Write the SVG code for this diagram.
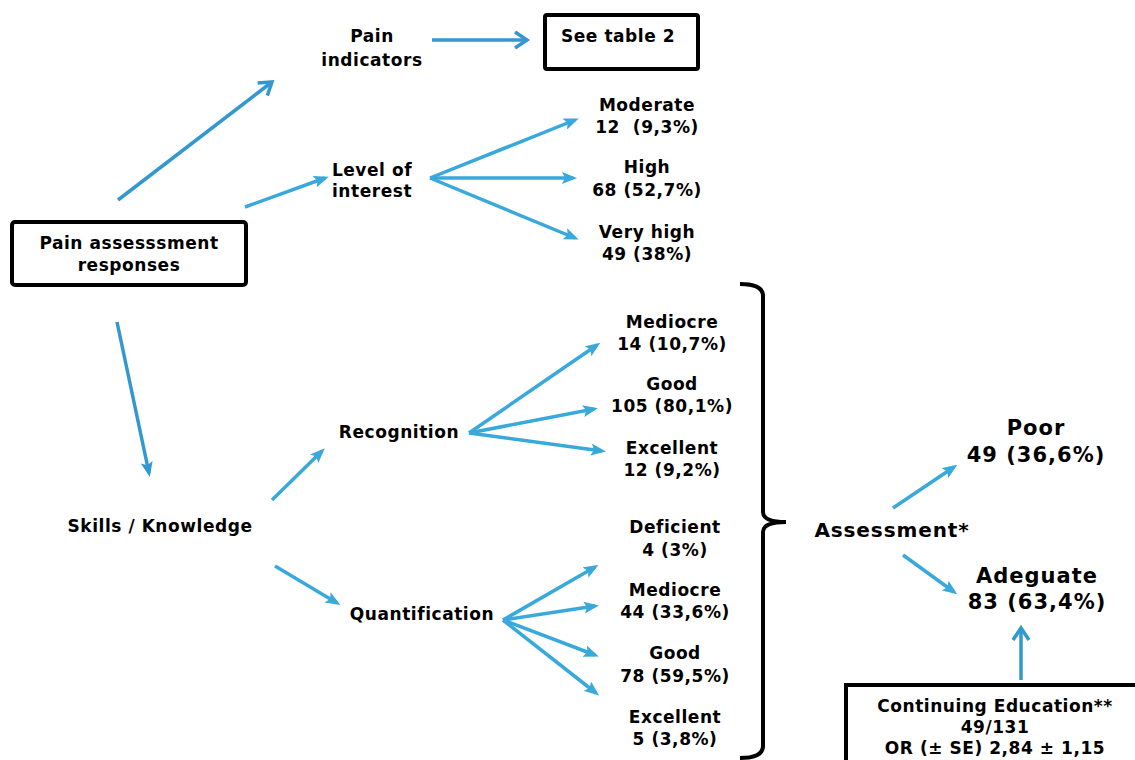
<svg xmlns="http://www.w3.org/2000/svg" width="1135" height="760" viewBox="0 0 1135 760">
<style>
text{font-family:"DejaVu Sans","Verdana",sans-serif;font-weight:bold;font-size:17px;fill:#000;text-anchor:middle;white-space:pre;letter-spacing:0.55px}
.box{fill:#fff;stroke:#000;stroke-width:4}
.lt{stroke:#39a9dc;stroke-width:3.5;fill:none;marker-end:url(#fh)}
.dk{stroke:#3498d0;stroke-width:3.5;fill:none;marker-end:url(#oh)}
.dkf{stroke:#3498d0;stroke-width:3.5;fill:none;marker-end:url(#fhd)}
.big{font-size:21px;letter-spacing:1px}
</style>
<defs>
<marker id="fh" markerUnits="userSpaceOnUse" markerWidth="15" markerHeight="12" refX="11" refY="6" orient="auto"><path d="M0,0 L15,6 L0,12 L3,6 z" fill="#39a9dc"/></marker>
<marker id="fhd" markerUnits="userSpaceOnUse" markerWidth="15" markerHeight="12" refX="11" refY="6" orient="auto"><path d="M0,0 L15,6 L0,12 L3,6 z" fill="#3498d0"/></marker>
<marker id="oh" markerUnits="userSpaceOnUse" markerWidth="18" markerHeight="20" refX="14" refY="10" orient="auto"><path d="M2,2 L14,10 L2,18" fill="none" stroke="#3498d0" stroke-width="3.5"/></marker>
</defs>
<g id="connectors">
<line class="dk" x1="118" y1="200" x2="272" y2="82"/>
<line class="dk" x1="432" y1="40" x2="527" y2="40"/>
<line class="lt" x1="245" y1="207" x2="325" y2="178"/>
<line class="lt" x1="430" y1="178" x2="575" y2="120"/>
<line class="lt" x1="430" y1="178" x2="573" y2="178"/>
<line class="lt" x1="430" y1="178" x2="575" y2="238"/>
<line class="dkf" x1="117" y1="322" x2="149" y2="473"/>
<line class="lt" x1="272" y1="500" x2="322" y2="451"/>
<line class="lt" x1="275" y1="566" x2="337" y2="603"/>
<line class="lt" x1="469" y1="433" x2="597" y2="345"/>
<line class="lt" x1="469" y1="433" x2="594" y2="409"/>
<line class="lt" x1="469" y1="433" x2="602" y2="451"/>
<line class="lt" x1="503" y1="620" x2="595" y2="567"/>
<line class="lt" x1="503" y1="620" x2="595" y2="606"/>
<line class="lt" x1="503" y1="620" x2="595" y2="655"/>
<line class="lt" x1="503" y1="620" x2="596" y2="693"/>
<line class="lt" x1="893" y1="508" x2="954" y2="467"/>
<line class="lt" x1="903" y1="555" x2="954" y2="592"/>
<line class="dk" x1="1021" y1="680" x2="1021" y2="628"/>
</g>
<g id="pain-responses"><rect class="box" x="12" y="222" width="234" height="63" rx="3"/><text x="129" y="249">Pain assesssment</text><text x="129" y="271">responses</text></g>
<g id="pain-indicators"><text x="372" y="42">Pain</text><text x="372" y="66">indicators</text></g>
<g id="see-table"><rect class="box" x="545" y="15" width="153" height="54" rx="2"/><text x="561" y="42" style="text-anchor:start">See table 2</text></g>
<g id="level-interest"><text x="372" y="176">Level of</text><text x="372" y="197">interest</text></g>
<g id="moderate"><text x="647" y="111">Moderate</text><text x="647" y="133">12  (9,3%)</text></g>
<g id="high"><text x="647" y="173">High</text><text x="647" y="196">68 (52,7%)</text></g>
<g id="very-high"><text x="647" y="238">Very high</text><text x="647" y="260">49 (38%)</text></g>
<g id="skills"><text x="160" y="532">Skills / Knowledge</text></g>
<g id="recognition"><text x="399" y="438">Recognition</text></g>
<g id="rec-mediocre"><text x="672" y="328">Mediocre</text><text x="672" y="350">14 (10,7%)</text></g>
<g id="rec-good"><text x="672" y="390">Good</text><text x="672" y="412">105 (80,1%)</text></g>
<g id="rec-excellent"><text x="672" y="454">Excellent</text><text x="672" y="476">12 (9,2%)</text></g>
<g id="quantification"><text x="422" y="620">Quantification</text></g>
<g id="q-deficient"><text x="675" y="533">Deficient</text><text x="675" y="556">4 (3%)</text></g>
<g id="q-mediocre"><text x="675" y="596">Mediocre</text><text x="675" y="618">44 (33,6%)</text></g>
<g id="q-good"><text x="675" y="659">Good</text><text x="675" y="682">78 (59,5%)</text></g>
<g id="q-excellent"><text x="675" y="723">Excellent</text><text x="675" y="745">5 (3,8%)</text></g>
<g id="brace"><path d="M740,284 Q763,284 763,296 L763,512 Q763,522 786,522 Q763,522 763,532 L763,746 Q763,758 740,758" fill="none" stroke="#000" stroke-width="4"/></g>
<g id="assessment"><text x="892" y="537" style="font-size:20px;letter-spacing:0.9px">Assessment*</text></g>
<g id="poor"><text class="big" x="1036" y="435">Poor</text><text class="big" x="1036" y="462">49 (36,6%)</text></g>
<g id="adequate"><text class="big" x="1037" y="583">Adeguate</text><text class="big" x="1037" y="609">83 (63,4%)</text></g>
<g id="continuing-education"><rect class="box" x="846" y="685" width="300" height="90"/><text x="995" y="712">Continuing Education**</text><text x="995" y="733">49/131</text><text x="995" y="754">OR (± SE) 2,84 ± 1,15</text></g>
</svg>
